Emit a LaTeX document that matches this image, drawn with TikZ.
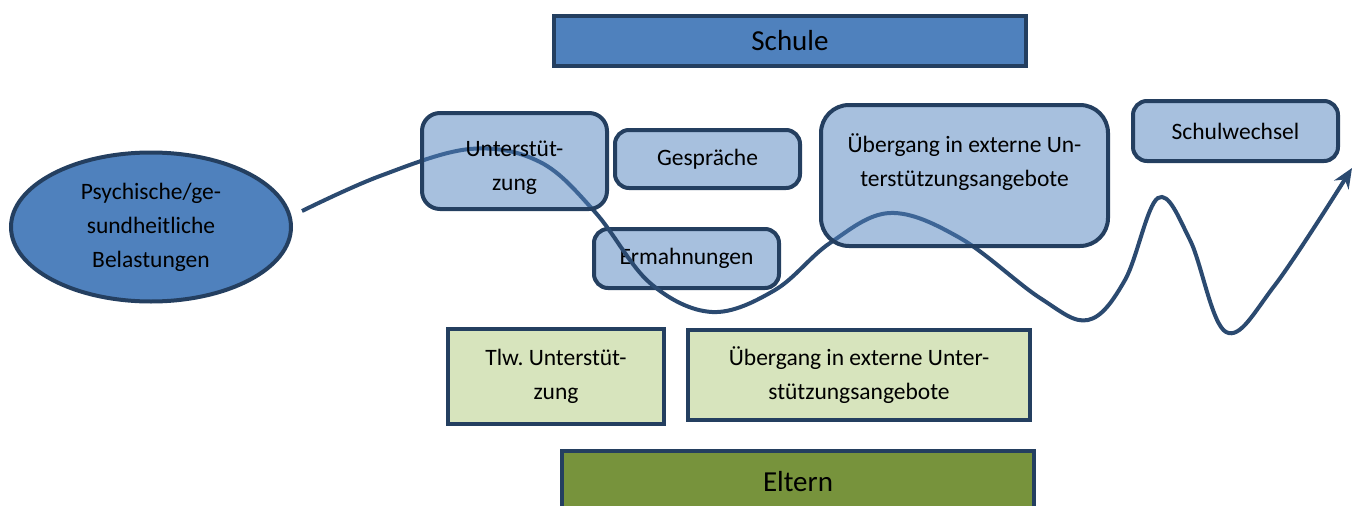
\documentclass[tikz,border=0pt]{standalone}
\usepackage{fontspec}
\setmainfont{Carlito}
\usetikzlibrary{shapes.geometric,arrows.meta}
\definecolor{navy}{HTML}{243F60}
\definecolor{curvec}{HTML}{2B4A70}
\definecolor{midblue}{HTML}{4F81BD}
\definecolor{lightgreen}{HTML}{D7E4BD}
\definecolor{olive}{HTML}{77933C}
\tikzset{
  base/.style={draw=navy, line width=4pt, inner sep=0pt, align=center,
    font=\fontsize{23.5}{34}\selectfont},
  bigbox/.style={base, rectangle, fill=midblue, font=\fontsize{29}{34}\selectfont},
  softbox/.style={base, rectangle, rounded corners=14pt, fill=midblue, fill opacity=0.5, text opacity=1},
  greenbox/.style={base, rectangle, fill=lightgreen},
  olivebox/.style={base, rectangle, fill=olive, font=\fontsize{29}{34}\selectfont},
  flow/.style={draw=curvec, line width=4pt, -{Stealth[length=20pt,width=17pt]}}
}
\begin{document}
\begin{tikzpicture}[x=1pt,y=-1pt]
\useasboundingbox (0,0) rectangle (1358,506);
\clip (0,0) rectangle (1358,506);

\node[bigbox, minimum width=472pt, minimum height=50pt] (schule) at (790,41) {Schule};
\node[base, ellipse, fill=midblue, minimum width=280pt, minimum height=149pt] (ell) at (151,227)
  {Psychische/ge-\\sundheitliche\\Belastungen};
\node[base, rectangle, rounded corners=14pt, fill=midblue!50, minimum width=185pt, minimum height=59pt] (erm) at (686.5,258.5) {Ermahnungen};

\coordinate (start) at (302,211);
\coordinate (tip) at (1352,168);
\draw[flow] plot[smooth, tension=0.6] coordinates {(start) (380,176) (470,149) (540,162) (595,212) (650,283) (712,312) (775,290) (830,243) (890,213) (960,238) (1040,298) (1088,320) (1125,280) (1158,198) (1190,240) (1226,332) (1275,285) (tip)};

\node[softbox, rounded corners=18pt, minimum width=185pt, minimum height=96pt] (unt) at (514.5,161) {\rule{0pt}{30pt}Unterstüt-\\zung};
\node[softbox, minimum width=185pt, minimum height=58pt] (ges) at (707.5,159) {Gespräche};
\node[softbox, rounded corners=28pt, minimum width=287pt, minimum height=141pt] (ueb) at (964.5,175.5) {};
\node[font=\fontsize{23.5}{34}\selectfont, align=center, inner sep=0pt] (uebtext) at ([yshift=13pt]ueb.center) {Übergang in externe Un-\\terstützungsangebote};
\node[softbox, minimum width=205pt, minimum height=60pt] (sw) at (1235.5,131) {Schulwechsel};

\node[greenbox, minimum width=216pt, minimum height=95pt] (tlw) at (556,376.5) {Tlw.\ Unterstüt-\\zung};
\node[greenbox, minimum width=342pt, minimum height=90pt] (ueb2) at (859,375) {Übergang in externe Unter-\\stützungsangebote};
\node[olivebox, minimum width=472pt, minimum height=62pt] (eltern) at (798,482) {Eltern};
\end{tikzpicture}
\end{document}
